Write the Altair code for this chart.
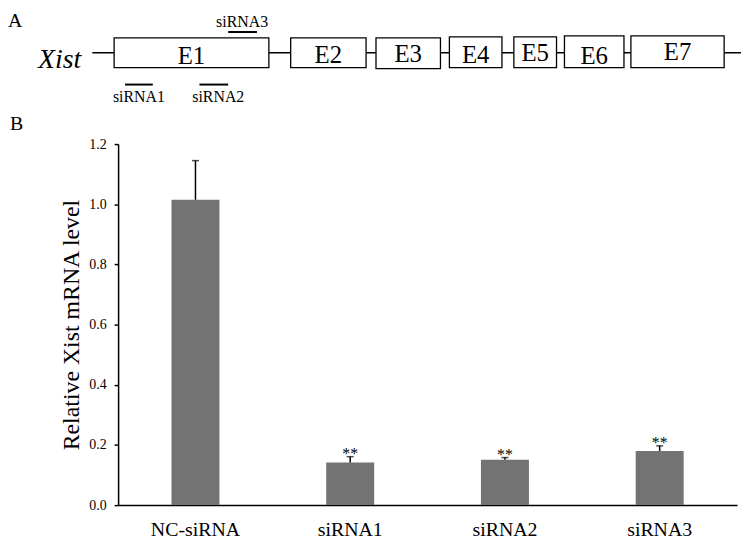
import altair as alt
import pandas as pd

FONT = "Liberation Serif"

# ---------------- Panel B data ----------------
groups = ["NC-siRNA", "siRNA1", "siRNA2", "siRNA3"]
means = [1.015, 0.142, 0.151, 0.180]
errors = [0.130, 0.019, 0.007, 0.017]
stars = ["", "**", "**", "**"]
y_ticks = [0.0, 0.2, 0.4, 0.6, 0.8, 1.0, 1.2]

# ---------------- Panel A: Xist gene schematic (schematic units) ----------------
exon_names = ["E1", "E2", "E3", "E4", "E5", "E6", "E7"]
exon_start = [115, 293, 379, 453, 518, 569, 636]
exon_end = [271, 369, 444, 506, 561, 629, 730]
exon_top = [32, 32, 32, 31, 31, 30, 30]
exon_bottom = [62, 62, 63, 62, 62, 62, 62]
exon_label_y = [58, 57, 56, 57, 55, 58, 54]
gene_start = [93]
gene_end = [747]
gene_y = [47]
gene_name = ["Xist"]
gene_name_x = [60]
gene_name_y = [62]
sirna_names = ["siRNA1", "siRNA2", "siRNA3"]
sirna_start = [126, 201, 230]
sirna_end = [154, 230, 259]
sirna_y = [79, 79, 26]
sirna_label_x = [140, 220, 244]
sirna_label_y = [97, 97, 20.7]

# ---------------- Panel A chart ----------------
xs = alt.Scale(domain=[119, 743], nice=False, zero=False)
ys = alt.Scale(domain=[20, 90], nice=False, zero=False, reverse=True)

exons = pd.DataFrame({"name": exon_names, "x1": exon_start, "x2": exon_end,
                      "y1": exon_top, "y2": exon_bottom, "ly": exon_label_y})
exons["xm"] = (exons.x1 + exons.x2) / 2
gene = pd.DataFrame({"x1": gene_start, "x2": gene_end, "y": gene_y,
                     "name": gene_name, "xn": gene_name_x, "yn": gene_name_y})
sirna = pd.DataFrame({"name": sirna_names, "x1": sirna_start, "x2": sirna_end,
                      "y": sirna_y, "lx": sirna_label_x, "ly": sirna_label_y})

line = alt.Chart(gene).mark_rule(color="black", strokeWidth=1.6).encode(
    x=alt.X("x1:Q", scale=xs, axis=None), x2="x2:Q",
    y=alt.Y("y:Q", scale=ys, axis=None))
gname = alt.Chart(gene).mark_text(font=FONT, fontSize=28, fontStyle="italic",
                                  baseline="alphabetic", color="black").encode(
    x=alt.X("xn:Q", scale=xs, axis=None), y=alt.Y("yn:Q", scale=ys, axis=None),
    text="name:N")
boxes = alt.Chart(exons).mark_rect(fill="white", stroke="black", strokeWidth=1.3).encode(
    x=alt.X("x1:Q", scale=xs, axis=None), x2="x2:Q",
    y=alt.Y("y1:Q", scale=ys, axis=None), y2="y2:Q")
blabels = alt.Chart(exons).mark_text(font=FONT, fontSize=25, baseline="alphabetic",
                                     color="black").encode(
    x=alt.X("xm:Q", scale=xs, axis=None), y=alt.Y("ly:Q", scale=ys, axis=None),
    text="name:N")
sbars = alt.Chart(sirna).mark_rule(color="black", strokeWidth=2).encode(
    x=alt.X("x1:Q", scale=xs, axis=None), x2="x2:Q",
    y=alt.Y("y:Q", scale=ys, axis=None))
slabels = alt.Chart(sirna).mark_text(font=FONT, fontSize=16, baseline="alphabetic",
                                     color="black").encode(
    x=alt.X("lx:Q", scale=xs, axis=None), y=alt.Y("ly:Q", scale=ys, axis=None),
    text="name:N")

top = alt.layer(line, gname, boxes, blabels, sbars, slabels).properties(
    width=624, height=70,
    title=alt.TitleParams("A", anchor="start", frame="group", dx=-111, offset=-33,
                          fontSize=20, font=FONT, fontWeight="normal",
                          baseline="alphabetic", color="black"))

# ---------------- Panel B chart ----------------
df = pd.DataFrame({"group": groups, "mean": means, "err": errors, "star": stars})
df["upper"] = df["mean"] + df["err"]

xb = alt.X("group:N", sort=groups, title=None,
           scale=alt.Scale(paddingInner=0.69, paddingOuter=0.345),
           axis=alt.Axis(labelAngle=0, ticks=False, labelPadding=15, labelFontSize=20,
                         labelFont=FONT, labelColor="black", domainColor="black",
                         domainWidth=1.5))
yb = alt.Y("mean:Q", title="Relative Xist mRNA level",
           scale=alt.Scale(domain=[0, 1.2], nice=False),
           axis=alt.Axis(values=y_ticks, format=".1f", labelFont=FONT, labelFontSize=14,
                         labelColor="black", tickColor="black", tickSize=4, tickWidth=1.5,
                         labelPadding=8, domainColor="black", domainWidth=1.5,
                         titleFont=FONT, titleFontSize=24, titleFontWeight="normal",
                         titleColor="black", titlePadding=5, grid=False))

bars = alt.Chart(df).mark_bar(color="#737373").encode(x=xb, y=yb)
ebar = alt.Chart(df).mark_rule(color="black", strokeWidth=1.5).encode(
    x=alt.X("group:N", sort=groups), y="mean:Q", y2="upper:Q")
ecap = alt.Chart(df).mark_tick(color="black", thickness=1.5, size=7).encode(
    x=alt.X("group:N", sort=groups), y="upper:Q")
stxt = alt.Chart(df).mark_text(font=FONT, fontSize=16, baseline="alphabetic", dy=2,
                               color="black").encode(
    x=alt.X("group:N", sort=groups), y="upper:Q", text="star:N")

bottom = alt.layer(bars, ebar, ecap, stxt).properties(
    width=624, height=364,
    title=alt.TitleParams("B", anchor="start", frame="group", dx=-109, offset=-13,
                          fontSize=20, font=FONT, fontWeight="normal",
                          baseline="alphabetic", color="black"))

chart = alt.vconcat(top, bottom, spacing=9).properties(
    padding={"left": 0, "top": 0, "right": 0, "bottom": 0}
).configure_view(stroke=None).configure_axis(grid=False)

chart.save("out.html", embed_options={"renderer": "svg", "actions": False})
